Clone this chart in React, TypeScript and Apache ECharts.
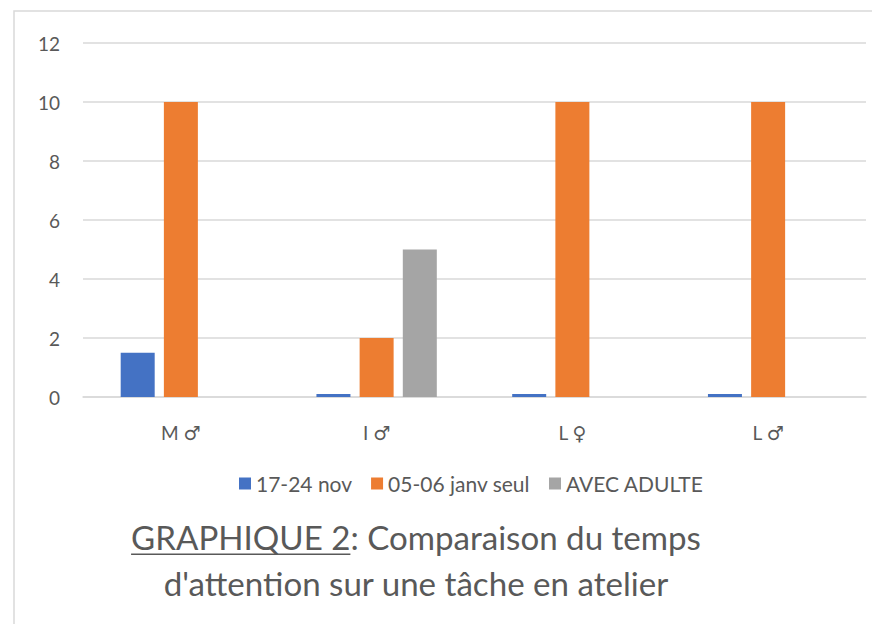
import React, { useEffect, useRef } from "react";
import * as echarts from "echarts";

const categories = ["M ♂", "I ♂", "L ♀", "L ♂"];
const seriesNames = ["17-24 nov", "05-06 janv seul", "AVEC ADULTE"];
const novValues = [1.5, 0.1, 0.1, 0.1];
const janvValues = [10, 2, 10, 10];
const adulteValues = [0, 5, 0, 0];
const yTicks = [0, 2, 4, 6, 8, 10, 12];
const titleUnderlined = "GRAPHIQUE 2";
const titleRest = ": Comparaison du temps";
const titleLine2 = "d'attention sur une tâche en atelier";

const FONT = "Lato, 'DejaVu Sans', sans-serif";
const TEXT = "#595959";

function measure(text: string, font: string): number {
  const c = document.createElement("canvas").getContext("2d");
  if (!c) return text.length * 14;
  c.font = font;
  return c.measureText(text).width;
}

export default function App() {
  const ref = useRef<HTMLDivElement>(null);
  useEffect(() => {
    if (!ref.current) return;
    const chart = echarts.init(ref.current, undefined, { renderer: "svg" });
    const base = measure(titleUnderlined + titleRest, "28px Lato");
    let titleSize = base > 0 ? (28 * 570) / base : 33;
    if (titleSize < 26 || titleSize > 40) titleSize = 33;
    const tf = `${titleSize}px Lato`;
    const w1 = measure(titleUnderlined, tf);
    const w2 = measure(titleRest, tf);
    const cx = 416;
    const start = cx - (w1 + w2) / 2;
    const line1Y = 537;
    const line2Y = 583;
    chart.setOption({
      animation: false,
      grid: { left: 83, right: 6, top: 43, bottom: 227 },
      legend: {
        left: 234,
        top: 468,
        itemWidth: 12,
        itemHeight: 12,
        itemGap: 19,
        icon: "rect",
        textStyle: { fontFamily: FONT, fontSize: 21, color: TEXT },
        data: seriesNames,
      },
      xAxis: {
        type: "category",
        data: categories,
        axisLine: { lineStyle: { color: "#d9d9d9", width: 1.5 } },
        axisTick: { show: false },
        axisLabel: { fontFamily: FONT, fontSize: 19, color: TEXT, margin: 26 },
      },
      yAxis: {
        type: "value",
        min: yTicks[0],
        max: yTicks[yTicks.length - 1],
        interval: 2,
        axisLine: { show: false },
        axisTick: { show: false },
        splitLine: { lineStyle: { color: "#d9d9d9", width: 1.5 } },
        axisLabel: { fontFamily: FONT, fontSize: 19, color: TEXT, margin: 23 },
      },
      series: [
        { name: seriesNames[0], type: "bar", data: novValues, barWidth: 34, barGap: "27%", itemStyle: { color: "#4472C4" } },
        { name: seriesNames[1], type: "bar", data: janvValues, barWidth: 34, barGap: "27%", itemStyle: { color: "#ED7D31" } },
        { name: seriesNames[2], type: "bar", data: adulteValues, barWidth: 34, barGap: "27%", itemStyle: { color: "#A5A5A5" } },
      ],
      graphic: [
        {
          type: "rect",
          silent: true,
          shape: { x: 14, y: 11, width: 900, height: 700 },
          style: { fill: "none", stroke: "#d9d9d9", lineWidth: 1.5 },
        },
        {
          type: "text",
          x: start,
          y: line1Y,
          style: { text: titleUnderlined, fontFamily: "Lato", fontSize: titleSize, fill: TEXT, textAlign: "left", textVerticalAlign: "middle" },
        },
        {
          type: "text",
          x: start + w1,
          y: line1Y,
          style: { text: titleRest, fontFamily: "Lato", fontSize: titleSize, fill: TEXT, textAlign: "left", textVerticalAlign: "middle" },
        },
        {
          type: "line",
          shape: { x1: start, y1: line1Y + titleSize * 0.52, x2: start + w1, y2: line1Y + titleSize * 0.52 },
          style: { stroke: TEXT, lineWidth: 1.5 },
        },
        {
          type: "text",
          x: cx,
          y: line2Y,
          style: { text: titleLine2, fontFamily: "Lato", fontSize: titleSize, fill: TEXT, textAlign: "center", textVerticalAlign: "middle" },
        },
      ],
    });
    return () => chart.dispose();
  }, []);
  return (
    <div
      ref={ref}
      style={{ position: "absolute", left: 0, top: 0, width: 872, height: 624, background: "#fff" }}
    />
  );
}
